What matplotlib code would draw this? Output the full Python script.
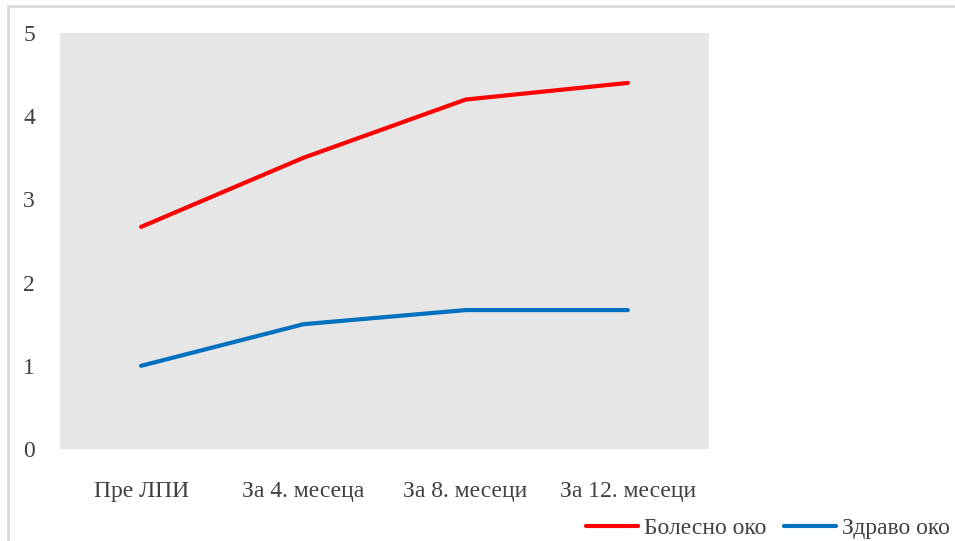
import matplotlib.pyplot as plt
from matplotlib.patches import Rectangle

# Data
categories = ['Пре ЛПИ', 'За 4. месеца', 'За 8. месеци', 'За 12. месеци']
diseased_eye = [2.67, 3.5, 4.2, 4.4]
healthy_eye = [1.0, 1.5, 1.67, 1.67]
series_labels = ['Болесно око', 'Здраво око']

plt.rcParams['font.family'] = ['Liberation Serif', 'DejaVu Serif']

fig = plt.figure(figsize=(9.55, 5.41), dpi=100)
ax = fig.add_axes([0.0628, 0.170, 0.6796, 0.769])
ax.set_facecolor('#e6e6e6')

x = range(len(categories))
ax.plot(x, diseased_eye, color='#ff0000', lw=3, solid_capstyle='round', label=series_labels[0])
ax.plot(x, healthy_eye, color='#0070c0', lw=3, solid_capstyle='round', label=series_labels[1])

ax.set_xlim(-0.5, len(categories) - 0.5)
ax.set_ylim(0, 5)
ax.set_xticks(list(x))
ax.set_xticklabels(categories)
ax.set_yticks(range(0, 6))
ax.tick_params(axis='both', length=0, labelsize=17, labelcolor='#404040')
ax.tick_params(axis='y', pad=18)
ax.tick_params(axis='x', pad=23)
for s in ax.spines.values():
    s.set_visible(False)

# Outer frame around the chart area
fig.patches.append(Rectangle((8 / 955, -0.1), 1.2, 1 - 6 / 541 + 0.1,
                             transform=fig.transFigure, fill=False,
                             edgecolor='#d9d9d9', lw=2))

leg = fig.legend(loc='center right', bbox_to_anchor=(950 / 955, 13 / 541), ncol=2,
                 frameon=False, fontsize=17, handlelength=2.2,
                 handletextpad=0.25, columnspacing=0.75,
                 borderpad=0, borderaxespad=0)
for t in leg.get_texts():
    t.set_color('#404040')

fig.savefig('out.png', dpi=100)
